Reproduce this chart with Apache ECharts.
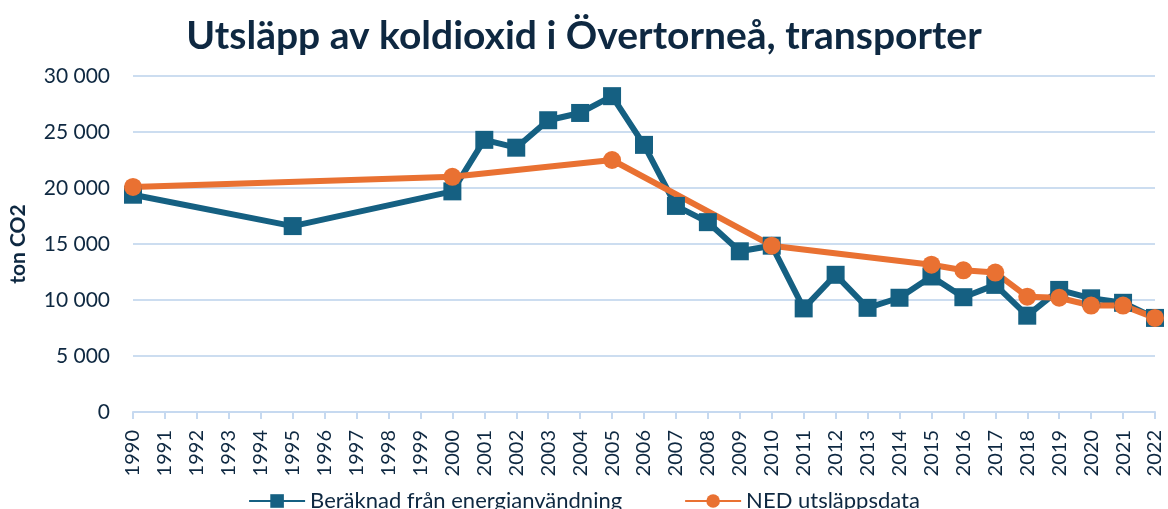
<!DOCTYPE html>
<html>
<head>
<meta charset="utf-8">
<script src="https://cdn.jsdelivr.net/npm/echarts@6/dist/echarts.min.js"></script>
<style>
html,body{margin:0;padding:0;background:#fff;}
#chart{width:1168px;height:509px;}
</style>
</head>
<body>
<div id="chart"></div>
<script>
const years = ['1990','1991','1992','1993','1994','1995','1996','1997','1998','1999','2000','2001','2002','2003','2004','2005','2006','2007','2008','2009','2010','2011','2012','2013','2014','2015','2016','2017','2018','2019','2020','2021','2022'];
const beraknad = [19400,null,null,null,null,16600,null,null,null,null,19700,24300,23600,26050,26700,28200,23850,18400,16950,14350,14850,9250,12250,9300,10200,12100,10250,11350,8600,10900,10150,9750,8400];
const ned = [20100,null,null,null,null,null,null,null,null,null,21000,null,null,null,null,22500,null,null,null,null,14850,null,null,null,null,13150,12650,12450,10300,10200,9500,9500,8400];
const seriesNames = ['Beräknad från energianvändning','NED utsläppsdata'];
const titleText = 'Utsläpp av koldioxid i Övertorneå, transporter';
const yName = 'ton CO2';

const navy = '#0E2841';
const blue = '#156082';
const orange = '#E97132';
const font = 'Lato';

const chart = echarts.init(document.getElementById('chart'));
chart.setOption({
  animation: false,
  title: {
    text: titleText,
    left: 'center', top: 12,
    textStyle: {fontFamily: font, fontWeight: 'bold', fontSize: 39, color: navy}
  },
  grid: {left: 133, right: 13, top: 76, bottom: 97},
  legend: {
    top: 485, left: 'center',
    itemWidth: 56, itemHeight: 17, itemGap: 62,
    textStyle: {fontFamily: font, fontSize: 22, color: navy},
    data: seriesNames
  },
  xAxis: {
    type: 'category', data: years, boundaryGap: false,
    axisLine: {lineStyle: {color: '#C6D9F0', width: 2}},
    axisTick: {show: true, length: 7, lineStyle: {color: '#C6D9F0', width: 2}},
    axisLabel: {rotate: 90, interval: 0, margin: 18, fontFamily: font, fontSize: 20, color: navy}
  },
  yAxis: {
    type: 'value', min: 0, max: 30000, interval: 5000,
    name: yName, nameLocation: 'middle', nameGap: 104, nameRotate: 90,
    nameTextStyle: {fontFamily: font, fontWeight: 'bold', fontSize: 21, color: navy},
    axisLine: {show: false}, axisTick: {show: false},
    splitLine: {lineStyle: {color: '#CCDDF0', width: 2}},
    axisLabel: {margin: 23, fontFamily: font, fontSize: 21, color: navy,
      formatter: v => String(v).replace(/\B(?=(\d{3})+(?!\d))/g, ' ')}
  },
  series: [
    {name: seriesNames[0], type: 'line', data: beraknad, connectNulls: true,
     symbol: 'rect', symbolSize: 18, itemStyle: {color: blue},
     lineStyle: {color: blue, width: 6}},
    {name: seriesNames[1], type: 'line', data: ned, connectNulls: true,
     symbol: 'circle', symbolSize: 18, itemStyle: {color: orange},
     lineStyle: {color: orange, width: 6}}
  ]
});
</script>
</body>
</html>
